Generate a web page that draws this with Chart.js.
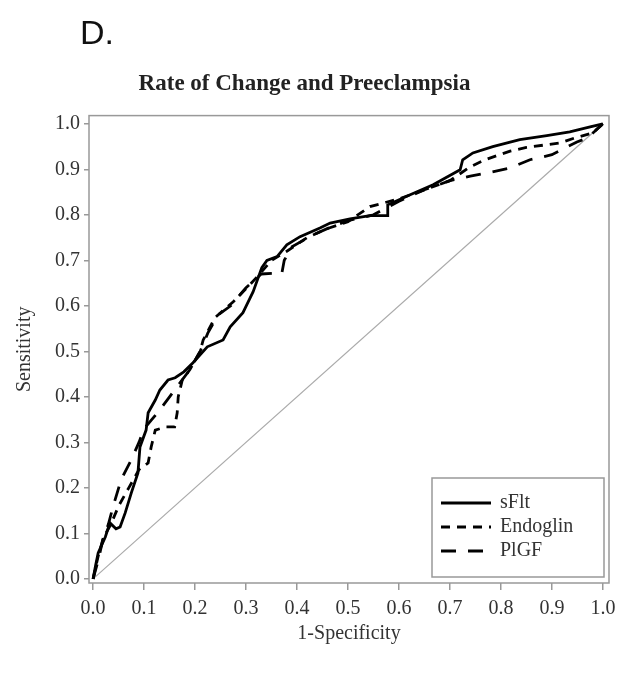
<!DOCTYPE html>
<html lang="en">
<head>
<meta charset="UTF-8">
<title>Rate of Change and Preeclampsia</title>
<script src="https://cdn.jsdelivr.net/npm/chart.js"></script>
<style>
    body { margin: 0; background: #fff; }
    #wrap { position: relative; width: 634px; height: 677px; }
    #panel { position: absolute; left: 80px; top: 13px; font: 34px "Liberation Sans", Arial, sans-serif; color: #111; }
</style>
</head>
<body>
<div id="wrap">
    <div id="panel">D.</div>
    <canvas id="rocChart" width="634" height="677"></canvas>
</div>
<script>
    // tick labels on both axes
    var tickValues = [0, 0.1, 0.2, 0.3, 0.4, 0.5, 0.6, 0.7, 0.8, 0.9, 1.0];

    // ROC curves: x = 1-specificity, y = sensitivity
    var sfltX = [0, 0.005, 0.01, 0.024, 0.033, 0.045, 0.053, 0.063, 0.075, 0.088, 0.092, 0.104, 0.108, 0.122, 0.131, 0.147, 0.161, 0.178, 0.196, 0.224, 0.255, 0.269, 0.294, 0.314, 0.331, 0.341, 0.361, 0.38, 0.406, 0.445, 0.465, 0.504, 0.543, 0.578, 0.578, 0.622, 0.667, 0.72, 0.725, 0.745, 0.784, 0.837, 0.89, 0.935, 0.975, 1];
    var sfltY = [0, 0.03, 0.057, 0.092, 0.123, 0.11, 0.114, 0.145, 0.189, 0.233, 0.29, 0.327, 0.365, 0.393, 0.415, 0.437, 0.442, 0.455, 0.475, 0.51, 0.525, 0.554, 0.585, 0.631, 0.684, 0.70, 0.708, 0.734, 0.752, 0.771, 0.782, 0.791, 0.798, 0.798, 0.822, 0.844, 0.866, 0.899, 0.921, 0.936, 0.95, 0.965, 0.974, 0.982, 0.993, 1];

    var endoglinX = [0, 0.01, 0.02, 0.035, 0.05, 0.07, 0.09, 0.108, 0.114, 0.122, 0.143, 0.16, 0.165, 0.167, 0.175, 0.19, 0.21, 0.216, 0.239, 0.275, 0.302, 0.322, 0.35, 0.38, 0.42, 0.46, 0.5, 0.543, 0.6, 0.65, 0.7, 0.739, 0.769, 0.818, 0.85, 0.916, 0.945, 0.98, 1];
    var endoglinY = [0, 0.05, 0.09, 0.12, 0.16, 0.2, 0.24, 0.255, 0.29, 0.327, 0.334, 0.334, 0.365, 0.4, 0.437, 0.46, 0.5, 0.525, 0.574, 0.609, 0.64, 0.664, 0.7, 0.72, 0.75, 0.77, 0.785, 0.818, 0.835, 0.855, 0.875, 0.905, 0.921, 0.94, 0.948, 0.958, 0.969, 0.98, 1];

    var plgfX = [0, 0.01, 0.02, 0.03, 0.039, 0.055, 0.075, 0.09, 0.1, 0.115, 0.13, 0.15, 0.17, 0.19, 0.21, 0.225, 0.245, 0.27, 0.3, 0.33, 0.361, 0.37, 0.375, 0.39, 0.43, 0.47, 0.5, 0.55, 0.6, 0.65, 0.7, 0.74, 0.773, 0.818, 0.857, 0.9, 0.949, 0.97, 1];
    var plgfY = [0, 0.04, 0.09, 0.12, 0.158, 0.218, 0.262, 0.3, 0.33, 0.35, 0.37, 0.40, 0.43, 0.46, 0.5, 0.54, 0.58, 0.6, 0.64, 0.67, 0.672, 0.67, 0.70, 0.73, 0.755, 0.775, 0.787, 0.8, 0.83, 0.855, 0.875, 0.885, 0.892, 0.903, 0.921, 0.932, 0.96, 0.969, 1];

    // chance line
    var refX = [0, 1];
    var refY = [0, 1];

    function points(xs, ys) {
        return xs.map(function (x, i) { return { x: x, y: ys[i] }; });
    }

    var serif = '"Liberation Serif", "Times New Roman", serif';
    var textColor = '#333';
    var axisColor = '#999';

    // gray box around the plot area
    var frame = {
        id: 'frame',
        beforeDatasetsDraw: function (chart) {
            var a = chart.chartArea, ctx = chart.ctx;
            ctx.save();
            ctx.strokeStyle = axisColor;
            ctx.lineWidth = 1.5;
            ctx.strokeRect(a.left, a.top, a.right - a.left, a.bottom - a.top);
            ctx.restore();
        }
    };

    // legend drawn inside the plot, lower right
    var insideLegend = {
        id: 'insideLegend',
        afterDatasetsDraw: function (chart) {
            var a = chart.chartArea, ctx = chart.ctx;
            var items = chart.data.datasets.filter(function (d) { return d.label; });
            var w = 172, h = 99;
            var left = a.right - 5 - w, top = a.bottom - 6 - h;
            ctx.save();
            ctx.fillStyle = '#fff';
            ctx.fillRect(left, top, w, h);
            ctx.strokeStyle = axisColor;
            ctx.lineWidth = 1.5;
            ctx.strokeRect(left, top, w, h);
            ctx.font = '20px ' + serif;
            ctx.textBaseline = 'middle';
            items.forEach(function (d, i) {
                var y = top + 25 + i * 24;
                ctx.strokeStyle = d.borderColor;
                ctx.lineWidth = d.borderWidth;
                ctx.setLineDash(d.borderDash || []);
                ctx.beginPath();
                ctx.moveTo(left + 9, y);
                ctx.lineTo(left + 59, y);
                ctx.stroke();
                ctx.setLineDash([]);
                ctx.fillStyle = textColor;
                ctx.fillText(d.label, left + 68, y);
            });
            ctx.restore();
        }
    };

    function fixedTicks(axis) {
        axis.ticks = tickValues.map(function (v) { return { value: v }; });
    }

    var ctx = document.getElementById('rocChart').getContext('2d');
    var rocChart = new Chart(ctx, {
        type: 'scatter',
        data: {
            datasets: [{
                label: 'sFlt',
                data: points(sfltX, sfltY),
                borderColor: '#000',
                borderWidth: 2.8,
                borderDash: []
            }, {
                label: 'Endoglin',
                data: points(endoglinX, endoglinY),
                borderColor: '#000',
                borderWidth: 2.8,
                borderDash: [9, 7]
            }, {
                label: 'PlGF',
                data: points(plgfX, plgfY),
                borderColor: '#000',
                borderWidth: 2.8,
                borderDash: [15, 12]
            }, {
                data: points(refX, refY),
                borderColor: '#aaa',
                borderWidth: 1.2
            }]
        },
        options: {
            responsive: false,
            animation: false,
            showLine: true,
            elements: { point: { radius: 0 }, line: { tension: 0 } },
            layout: { padding: { left: 0, right: 25, top: 0, bottom: 0 } },
            plugins: {
                legend: { display: false },
                tooltip: { enabled: false },
                title: {
                    display: true,
                    text: 'Rate of Change and Preeclampsia',
                    color: '#222',
                    font: { family: serif, size: 23, weight: 'bold' },
                    padding: { top: 70, bottom: 18 }
                }
            },
            scales: {
                x: {
                    type: 'linear',
                    min: -0.008,
                    max: 1.012,
                    afterBuildTicks: fixedTicks,
                    afterFit: function (s) { s.height = 94; },
                    border: { display: false },
                    grid: { drawOnChartArea: false, drawTicks: true, tickLength: 7, color: axisColor, lineWidth: 1.5 },
                    ticks: {
                        color: textColor,
                        font: { family: serif, size: 20 },
                        padding: 7,
                        maxRotation: 0,
                        callback: function (v) { return v.toFixed(1); }
                    },
                    title: {
                        display: true,
                        text: '1-Specificity',
                        color: textColor,
                        font: { family: serif, size: 20 },
                        padding: { top: 0, bottom: 31 }
                    }
                },
                y: {
                    type: 'linear',
                    min: -0.009,
                    max: 1.018,
                    afterBuildTicks: fixedTicks,
                    afterFit: function (s) { s.width = 89; },
                    border: { display: false },
                    grid: { drawOnChartArea: false, drawTicks: true, tickLength: 5, color: axisColor, lineWidth: 1.5 },
                    ticks: {
                        color: textColor,
                        font: { family: serif, size: 20 },
                        padding: 4,
                        callback: function (v) { return v.toFixed(1); }
                    },
                    title: {
                        display: true,
                        text: 'Sensitivity',
                        color: textColor,
                        font: { family: serif, size: 20 },
                        padding: { top: 13, bottom: 0 }
                    }
                }
            }
        },
        plugins: [frame, insideLegend]
    });
</script>
</body>
</html>
